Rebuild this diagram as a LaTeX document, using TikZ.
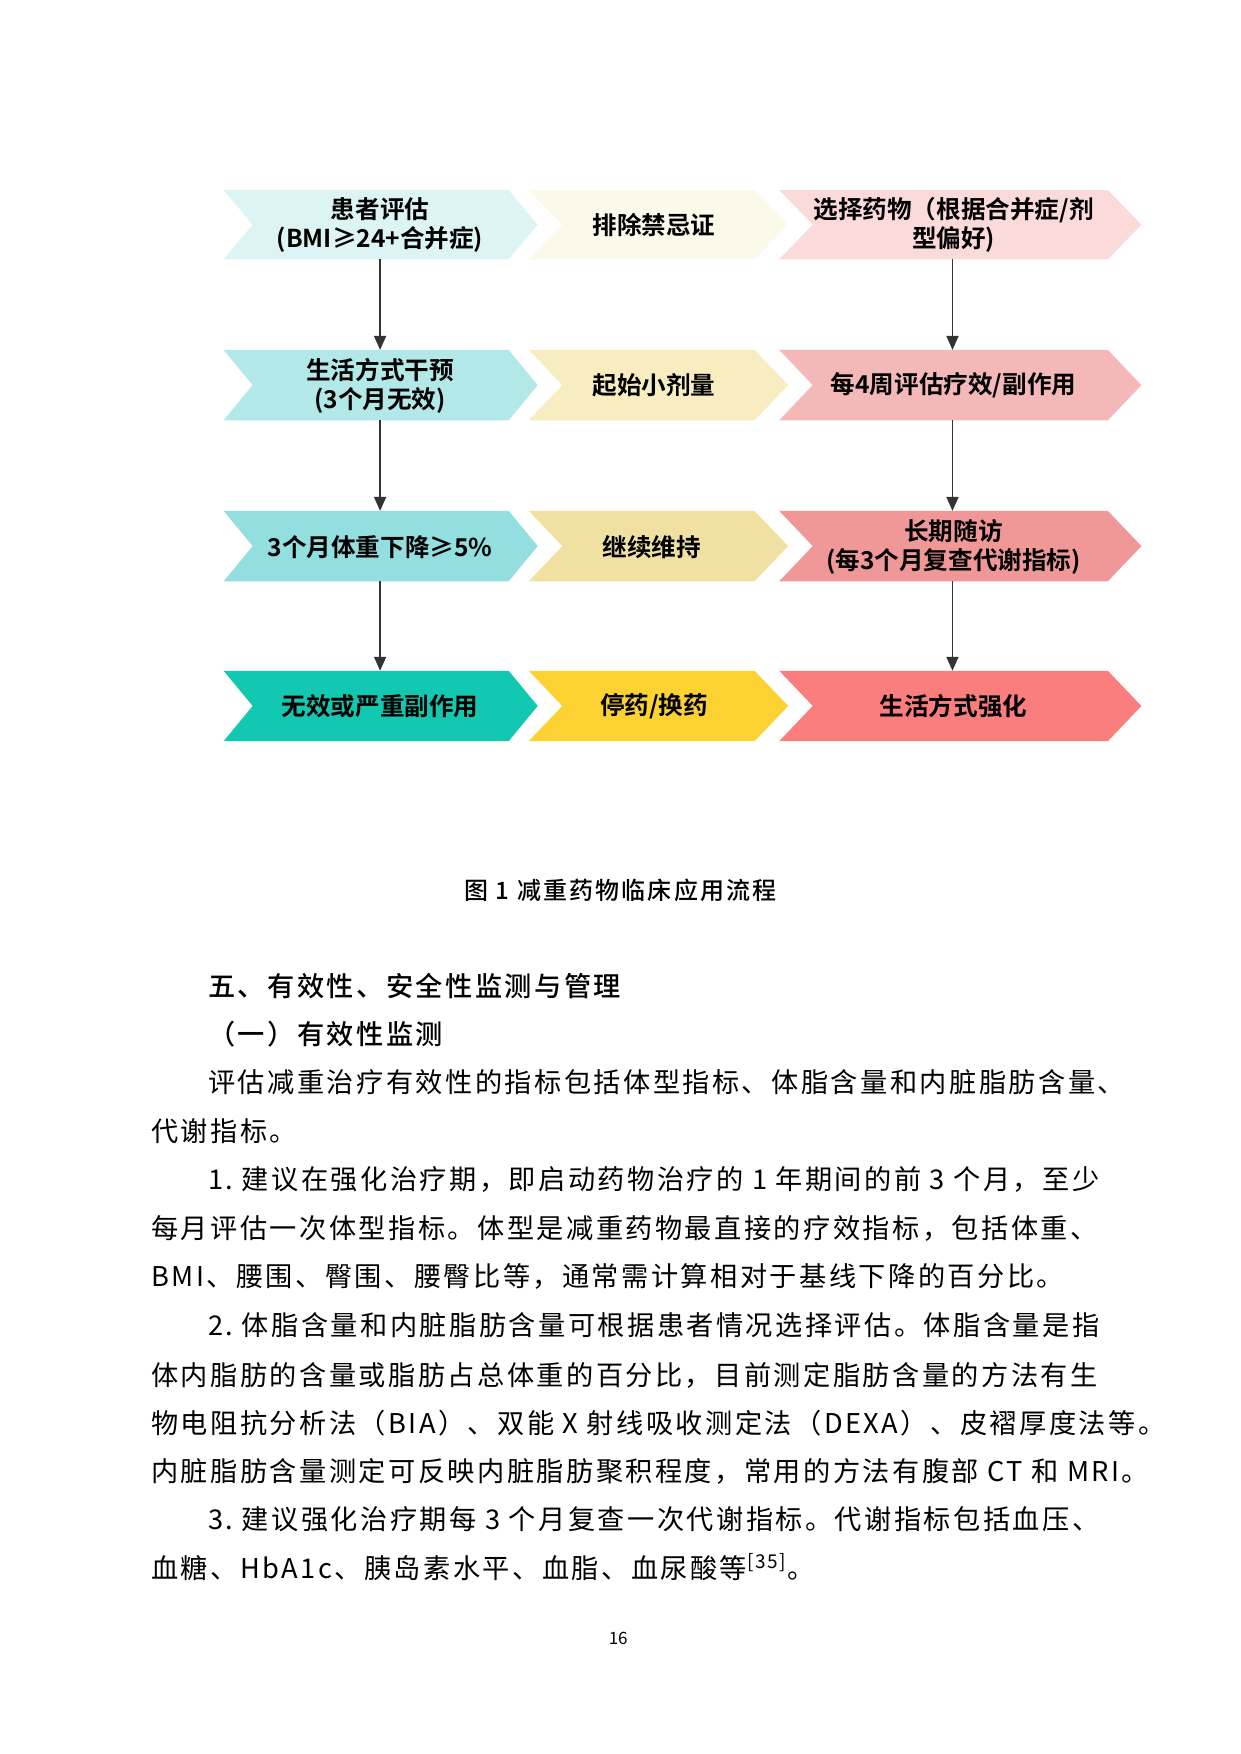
\documentclass[tikz,border=0pt]{standalone}
\usepackage{fontspec}
\setmainfont{Noto Sans CJK SC}
\newfontfamily\cjkb{Noto Sans CJK SC Bold}
\newfontfamily\bodyf[LetterSpace=9]{Noto Sans CJK SC}
\newfontfamily\headf[LetterSpace=9]{Noto Sans CJK SC Medium}
\usetikzlibrary{arrows.meta}
\definecolor{a1}{HTML}{DDF4F4}\definecolor{b1}{HTML}{FDF9EA}\definecolor{c1}{HTML}{FBDADA}
\definecolor{a2}{HTML}{B3E8E8}\definecolor{b2}{HTML}{F7EDC0}\definecolor{c2}{HTML}{F4B8B8}
\definecolor{a3}{HTML}{93DFDF}\definecolor{b3}{HTML}{F0E1A2}\definecolor{c3}{HTML}{F09898}
\definecolor{a4}{HTML}{13C8B0}\definecolor{b4}{HTML}{FCD232}\definecolor{c4}{HTML}{FA7E7E}
\newcommand\mychev[7]{%
  \fill[#7] (#2,#5) -- (#3,#5) -- (#4,{(#5+#6)/2}) -- (#3,#6) -- (#2,#6) -- ({#2+#4-#3},{(#5+#6)/2}) -- cycle;
}
\begin{document}
\begin{tikzpicture}[x=0.559pt,y=-0.559pt,
  lbl/.style={font=\cjkb\fontsize{12.3pt}{14.5pt}\selectfont,align=center,inner sep=0},
  arr/.style={-{Triangle[length=7pt,width=6pt]},line width=0.9pt,draw=black!80},
  body/.style={font=\bodyf\fontsize{13.6pt}{16pt}\selectfont,anchor=base west,inner sep=0},
  head/.style={font=\headf\fontsize{13.6pt}{16pt}\selectfont,anchor=base west,inner sep=0}]
\useasboundingbox (0,0) rectangle (1110,1569);
\foreach \r/\t/\b in {1/170/232,2/313/376,3/457/520,4/600/663}{
  \mychev{}{200}{455}{481}{\t}{\b}{a\r}
  \mychev{}{473}{675}{705}{\t}{\b}{b\r}
  \mychev{}{697}{991}{1021}{\t}{\b}{c\r}
}
\node[lbl] (a1) at (340,201) {患者评估\\(BMI≥24+合并症)};
\node[lbl] (b1) at (585,201) {排除禁忌证};
\node[lbl] (c1) at (853,201) {选择药物（根据合并症/剂\\型偏好)};
\node[lbl] (a2) at (340,345) {生活方式干预\\(3个月无效)};
\node[lbl] (b2) at (585,345) {起始小剂量};
\node[lbl] (c2) at (853,345) {每4周评估疗效/副作用};
\node[lbl] (a3) at (340,489) {3个月体重下降≥5\%};
\node[lbl] (b3) at (583,489) {继续维持};
\node[lbl] (c3) at (853,489) {长期随访\\(每3个月复查代谢指标)};
\node[lbl] (a4) at (340,632) {无效或严重副作用};
\node[lbl] (b4) at (585,632) {停药/换药};
\node[lbl] (c4) at (853,632) {生活方式强化};
\coordinate (p1) at (340,232);\coordinate (p2) at (340,313);
\coordinate (p3) at (340,376);\coordinate (p4) at (340,457);
\coordinate (p5) at (340,520);\coordinate (p6) at (340,600);
\coordinate (q1) at (852,232);\coordinate (q2) at (852,313);
\coordinate (q3) at (852,376);\coordinate (q4) at (852,457);
\coordinate (q5) at (852,520);\coordinate (q6) at (852,600);
\draw[arr] (p1)--(p2); \draw[arr] (p3)--(p4); \draw[arr] (p5)--(p6);
\draw[arr] (q1)--(q2); \draw[arr] (q3)--(q4); \draw[arr] (q5)--(q6);
\node[font=\headf\fontsize{12pt}{14pt}\selectfont,inner sep=0] (cap) at (555,796) {图 1\ 减重药物临床应用流程};
\node[head] (h1) at (186,891) {五、有效性、安全性监测与管理};
\node[head] (h2) at (186,934) {（一）有效性监测};
\node[body] (l1) at (186,977) {评估减重治疗有效性的指标包括体型指标、体脂含量和内脏脂肪含量、};
\node[body] (l2) at (135,1021) {代谢指标。};
\node[body] (l3) at (186,1064) {1.\ 建议在强化治疗期，即启动药物治疗的 1 年期间的前 3 个月，至少};
\node[body] (l4) at (135,1108) {每月评估一次体型指标。体型是减重药物最直接的疗效指标，包括体重、};
\node[body] (l5) at (135,1151) {BMI、腰围、臀围、腰臀比等，通常需计算相对于基线下降的百分比。};
\node[body] (l6) at (186,1195) {2.\ 体脂含量和内脏脂肪含量可根据患者情况选择评估。体脂含量是指};
\node[body] (l7) at (135,1239) {体内脂肪的含量或脂肪占总体重的百分比，目前测定脂肪含量的方法有生};
\node[body] (l8) at (135,1282) {物电阻抗分析法（BIA）、双能 X 射线吸收测定法（DEXA）、皮褶厚度法等。};
\node[body] (l9) at (135,1325) {内脏脂肪含量测定可反映内脏脂肪聚积程度，常用的方法有腹部 CT 和 MRI。};
\node[body] (l10) at (186,1368) {3.\ 建议强化治疗期每 3 个月复查一次代谢指标。代谢指标包括血压、};
\node[body] (l11) at (135,1412) {血糖、HbA1c、胰岛素水平、血脂、血尿酸等\textsuperscript{[35]}。};
\node[font=\fontsize{8.5pt}{10pt}\selectfont,inner sep=0] (pg) at (553,1466) {16};
\end{tikzpicture}
\end{document}
